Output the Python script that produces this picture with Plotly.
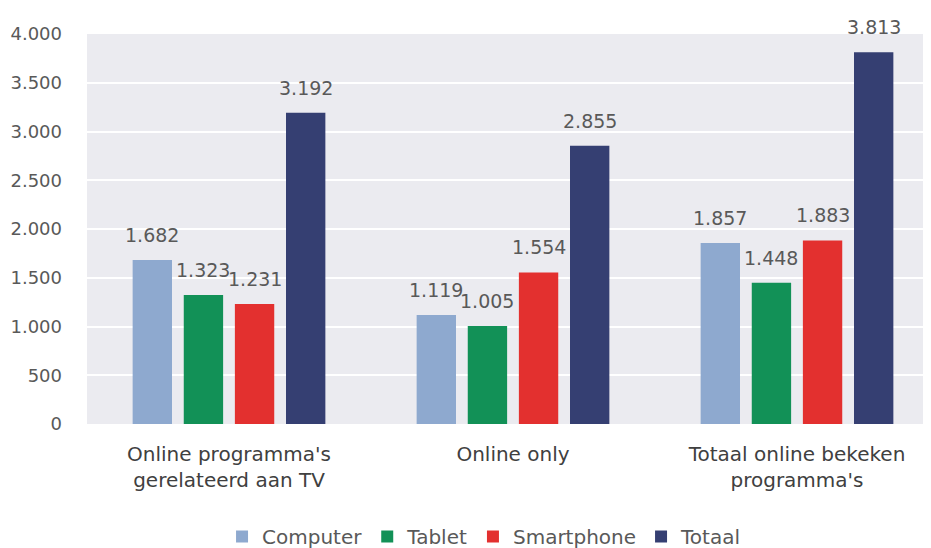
import plotly.graph_objects as go

categories = ["Online programma's<br>gerelateerd aan TV", "Online only", "Totaal online bekeken<br>programma's"]
series_names = ["Computer", "Tablet", "Smartphone", "Totaal"]
computer = [1682, 1119, 1857]
tablet = [1323, 1005, 1448]
smartphone = [1231, 1554, 1883]
totaal = [3192, 2855, 3813]
y_ticks = [0, 500, 1000, 1500, 2000, 2500, 3000, 3500, 4000]

colors = ["#8ea9cf", "#129157", "#e3302f", "#353f72"]
values = [computer, tablet, smartphone, totaal]

FONT = "DejaVu Sans"
BARGAP = 0.28
fig = go.Figure()
for name, vals, col in zip(series_names, values, colors):
    fig.add_trace(go.Bar(name=name, x=list(range(len(categories))), y=vals,
                         marker=dict(color=col, line=dict(width=0))))

# value labels above bars, positioned via axis coordinates
slot = (1 - BARGAP) / len(series_names)
for i, vals in enumerate(values):
    off = (i - (len(series_names) - 1) / 2) * slot
    for j, v in enumerate(vals):
        fig.add_annotation(x=j + off, y=v, text=f"{v:,}".replace(",", "."),
                           showarrow=False, yanchor="bottom", yshift=12,
                           font=dict(size=19, color="#595959", family=FONT))

fig.update_layout(
    width=931, height=548,
    margin=dict(l=79, r=0, t=26, b=129),
    paper_bgcolor="white", plot_bgcolor="#ebebf0",
    barmode="group", bargap=BARGAP, bargroupgap=0.23,
    separators=",.",
    font=dict(family=FONT, color="#595959", size=18),
    legend=dict(orientation="h", x=0.466, xanchor="center", y=-0.29, yanchor="middle",
                font=dict(size=20, color="#595959"), itemwidth=30, traceorder="normal"),
    showlegend=True,
)
fig.update_xaxes(tickmode="array", tickvals=list(range(len(categories))), ticktext=categories,
                 range=[-0.5, 2.5], showgrid=False, zeroline=False, ticks="",
                 tickfont=dict(size=20, color="#404040"), showline=False,
                 automargin=False, ticklabelstandoff=16)
fig.update_yaxes(range=[0, 4000], tickvals=y_ticks, tickformat=",d", showgrid=True,
                 gridcolor="white", gridwidth=2, zeroline=False, ticks="",
                 tickfont=dict(size=18, color="#595959"), ticklabelstandoff=24,
                 automargin=False)

fig.write_html("out.html")
